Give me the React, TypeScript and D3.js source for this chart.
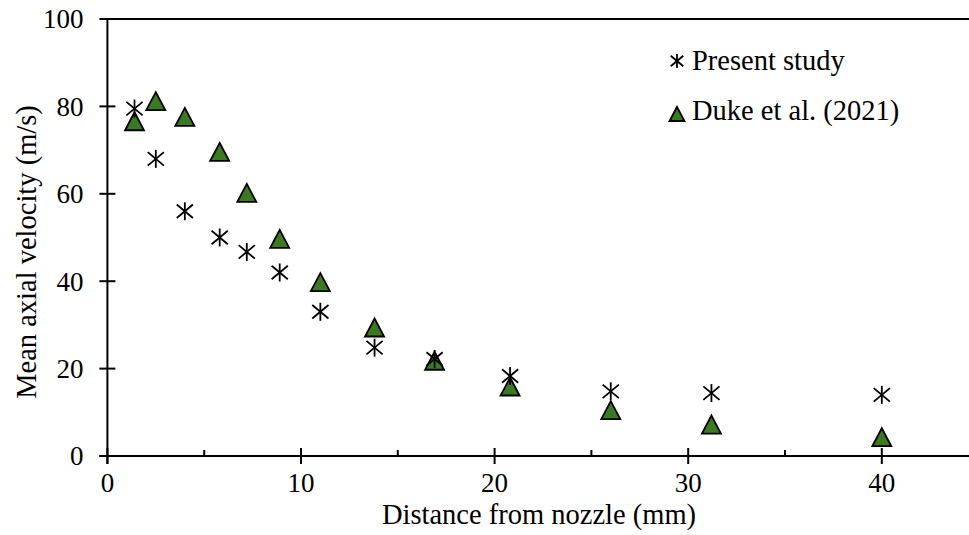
import React from "react";
import * as d3 from "d3";

const presentX = [1.4, 2.5, 4.0, 5.8, 7.2, 8.9, 11.0, 13.8, 16.9, 20.8, 26.0, 31.2, 40.0];
const presentY = [79.5, 68.0, 56.0, 50.0, 46.7, 42.0, 33.0, 24.8, 22.2, 18.3, 14.8, 14.4, 14.0];
const dukeX = [1.4, 2.5, 4.0, 5.8, 7.2, 8.9, 11.0, 13.8, 16.9, 20.8, 26.0, 31.2, 40.0];
const dukeY = [76.6, 81.2, 77.6, 69.6, 60.2, 49.7, 39.8, 29.4, 21.8, 15.9, 10.5, 7.2, 4.3];
const xMajorTicks = [0, 10, 20, 30, 40];
const xMinorTicks = [5, 15, 25, 35];
const yTicks = [0, 20, 40, 60, 80, 100];
const seriesNames = ["Present study", "Duke et al. (2021)"];
const xTitle = "Distance from nozzle (mm)";
const yTitle = "Mean axial velocity (m/s)";

const W = 969;
const H = 535;
const FONT = "Liberation Serif, DejaVu Serif, serif";
const GREEN = "#3b7a22";

function Asterisk({ cx, cy, r }: { cx: number; cy: number; r: number }) {
  const dx = r * 0.9;
  const dy = r * 0.75;
  return (
    <g stroke="#000" strokeWidth={1.8} fill="none">
      <line x1={cx - dx} y1={cy - dy} x2={cx + dx} y2={cy + dy} />
      <line x1={cx - dx} y1={cy + dy} x2={cx + dx} y2={cy - dy} />
      <line x1={cx} y1={cy - r} x2={cx} y2={cy + r} />
    </g>
  );
}

function Triangle({ cx, cy, w, h }: { cx: number; cy: number; w: number; h: number }) {
  const p = d3.path();
  p.moveTo(cx, cy - h / 2);
  p.lineTo(cx + w / 2, cy + h / 2);
  p.lineTo(cx - w / 2, cy + h / 2);
  p.closePath();
  return <path d={p.toString()} fill={GREEN} stroke="#000" strokeWidth={1.8} strokeLinejoin="miter" />;
}

export default function App() {
  const x = d3.scaleLinear().domain([0, 45]).range([107.4, 978.6]);
  const y = d3.scaleLinear().domain([0, 100]).range([456, 19]);
  const x0 = x(0);
  const y0 = y(0);
  const tick = { fontFamily: FONT, fontSize: 27, fill: "#000" } as React.CSSProperties;
  const ts = { fontFamily: FONT, fontSize: 28.5, fill: "#000" } as React.CSSProperties;

  return (
    <svg
      width={W}
      height={H}
      style={{ position: "absolute", left: 0, top: 0, background: "#fff", fontFamily: FONT }}
    >
      <rect x={0} y={0} width={W} height={H} fill="#fff" />
      <line x1={x0} y1={y(100)} x2={W} y2={y(100)} stroke="#000" strokeWidth={2} />
      <line x1={x0} y1={y(100)} x2={x0} y2={y0 + 8} stroke="#000" strokeWidth={2} />
      <line x1={x0 - 8} y1={y0} x2={W} y2={y0} stroke="#000" strokeWidth={2} />
      {yTicks.map((t) => (
        <g key={"yt" + t}>
          <line x1={x0 - 8} y1={y(t)} x2={x0 + 8} y2={y(t)} stroke="#000" strokeWidth={2} />
          <text x={x0 - 24} y={y(t)} dy="0.35em" textAnchor="end" style={tick}>
            {t}
          </text>
        </g>
      ))}
      {xMajorTicks.map((t) => (
        <g key={"xt" + t}>
          <line x1={x(t)} y1={y0 - 8} x2={x(t)} y2={y0 + 8} stroke="#000" strokeWidth={2} />
          <text x={x(t)} y={492} textAnchor="middle" style={tick}>
            {t}
          </text>
        </g>
      ))}
      {xMinorTicks.map((t) => (
        <line key={"xm" + t} x1={x(t)} y1={y0 - 6} x2={x(t)} y2={y0} stroke="#000" strokeWidth={2} />
      ))}
      <text x={539} y={524} textAnchor="middle" style={ts}>
        {xTitle}
      </text>
      <text transform={`translate(36,252) rotate(-90)`} textAnchor="middle" style={ts}>
        {yTitle}
      </text>
      {dukeX.map((d, i) => (
        <Triangle key={"d" + i} cx={x(d)} cy={y(dukeY[i])} w={19} h={18} />
      ))}
      {presentX.map((d, i) => (
        <Asterisk key={"p" + i} cx={x(d)} cy={y(presentY[i])} r={9} />
      ))}
      <Asterisk cx={677} cy={61} r={7} />
      <text x={692} y={70} style={ts}>
        {seriesNames[0]}
      </text>
      <Triangle cx={677} cy={114} w={15} h={14} />
      <text x={692} y={120} style={ts}>
        {seriesNames[1]}
      </text>
    </svg>
  );
}
